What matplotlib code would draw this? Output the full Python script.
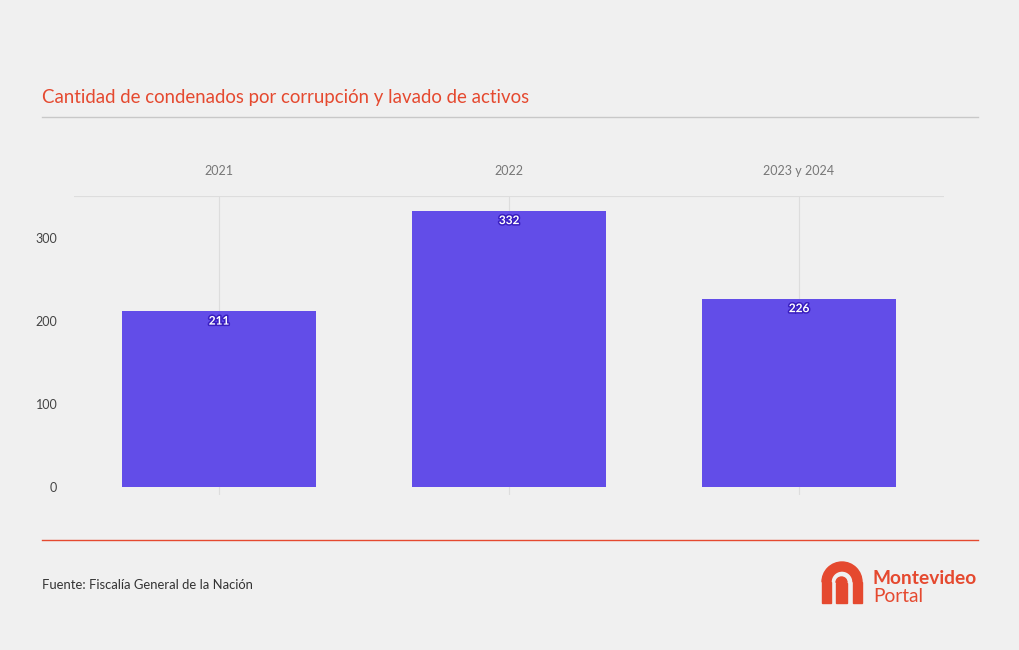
import matplotlib.pyplot as plt
import matplotlib.patheffects as pe
from matplotlib.patches import Wedge, Rectangle

categories = ["2021", "2022", "2023 y 2024"]
values = [211, 332, 226]
y_ticks = [0, 100, 200, 300]

title = "Cantidad de condenados por corrupción y lavado de activos"
source = "Fuente: Fiscalía General de la Nación"

BG = "#F0F0F0"
BAR = "#624DE8"
RED = "#E5492F"

plt.rcParams["font.family"] = ["Lato", "DejaVu Sans"]

fig = plt.figure(figsize=(10.2, 6.5), dpi=100, facecolor=BG)
W, H = 1020, 650

# main chart area (pixel box 74..944 x 196..495)
ax = fig.add_axes([74 / W, 1 - 495 / H, 870 / W, (495 - 196) / H])
ax.set_facecolor(BG)
x = range(len(categories))
ax.bar(x, values, width=0.666, color=BAR, zorder=2)
for xi, v in zip(x, values):
    ax.text(xi, v - 5, str(v), ha="center", va="top", color="white",
            fontsize=8.5, fontweight="bold", zorder=3,
            path_effects=[pe.withStroke(linewidth=2.2, foreground="#3A1FC0")])

ax.set_xlim(-0.5, 2.5)
ax.set_ylim(-10, 350)
ax.set_xticks(list(x))
ax.set_xticklabels(categories)
ax.xaxis.tick_top()
ax.tick_params(axis="x", length=0, pad=13.5, labelsize=9, labelcolor="#777777")
ax.set_yticks(y_ticks)
ax.tick_params(axis="y", length=0, pad=12, labelsize=9, labelcolor="#444444")
for s in ax.spines.values():
    s.set_visible(False)
ax.grid(axis="x", color="#DDDDDD", linewidth=0.8, zorder=0)
ax.axhline(350, color="#DDDDDD", linewidth=0.8, zorder=0)

# overlay in pixel coordinates for header/footer
ov = fig.add_axes([0, 0, 1, 1])
ov.set_xlim(0, W)
ov.set_ylim(H, 0)
ov.axis("off")
ov.patch.set_alpha(0)

ov.text(42, 97, title, color=RED, fontsize=13.4, va="center", ha="left")
ov.plot([42, 978], [117, 117], color="#C8C8C8", linewidth=1)
ov.plot([42, 978], [540, 540], color=RED, linewidth=1)
ov.text(42, 585, source, color="#333333", fontsize=9.4, va="center", ha="left")

# logo
ov.add_patch(Wedge((842, 582), 20, 180, 360, width=9, color=RED))
ov.add_patch(Rectangle((822, 582), 9, 21, color=RED))
ov.add_patch(Rectangle((853, 582), 9, 21, color=RED))
ov.add_patch(Wedge((841.5, 582.5), 5.5, 180, 360, color=RED))
ov.add_patch(Rectangle((836, 582.5), 11, 20.5, color=RED))
ov.text(873, 579, "Montevideo", color=RED, fontsize=13.8, fontweight="bold",
        va="center", ha="left")
ov.text(873, 596, "Portal", color=RED, fontsize=13.8, va="center", ha="left")

fig.savefig("out.png", dpi=100, facecolor=BG)
